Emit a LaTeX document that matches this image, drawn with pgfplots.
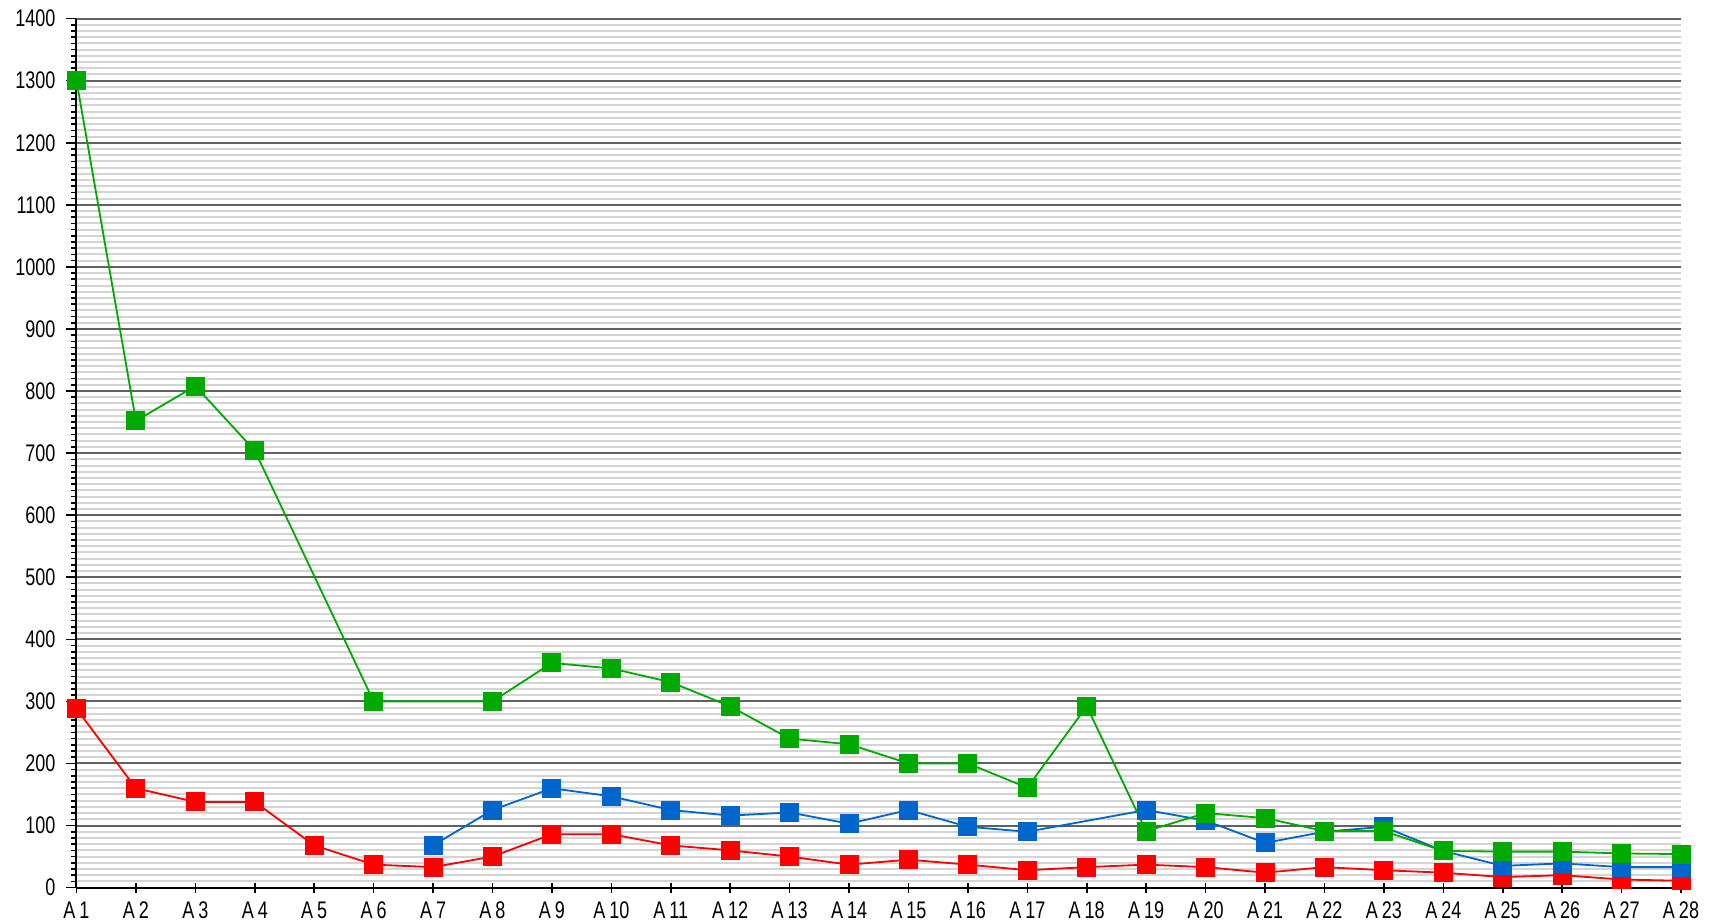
\documentclass[border=0pt]{standalone}
\usepackage{fontspec}
\setmainfont{Liberation Sans}[FakeStretch=0.75]
\usepackage{pgfplots}
\pgfplotsset{compat=1.18}
\definecolor{cgreen}{RGB}{0,170,0}
\definecolor{cred}{RGB}{255,0,0}
\definecolor{cblue}{RGB}{0,102,204}
\begin{document}
\begin{tikzpicture}
\useasboundingbox (-38.25pt,-17.2pt) rectangle (818.75pt,443.8pt);
\begin{axis}[
  at={(0,0)}, anchor=south west,
  scale only axis, width=802.25pt, height=434.5pt,
  xmin=1, xmax=28, ymin=0, ymax=1400,
  clip=false,
  axis lines*=left,
  axis line style={black, line width=1pt},
  xtick={1,...,28},
  xticklabels={A\,1,A\,2,A\,3,A\,4,A\,5,A\,6,A\,7,A\,8,A\,9,A\,10,A\,11,A\,12,A\,13,A\,14,A\,15,A\,16,A\,17,A\,18,A\,19,A\,20,A\,21,A\,22,A\,23,A\,24,A\,25,A\,26,A\,27,A\,28},
  ytick={0,100,...,1400},
  minor y tick num=9,
  ymajorgrids, yminorgrids,
  major grid style={draw=black!62, line width=1pt},
  minor grid style={draw=black!17, line width=1pt},
  tick style={black, line width=0.8pt},
  major tick length=5pt, minor tick length=2.5pt,
  tick align=outside,
  xtick align=center,
  /pgf/number format/assume math mode=true,
  /pgf/number format/1000 sep={},
  ticklabel style={font=\fontsize{12}{13}\selectfont},
  yticklabel style={xshift=-2pt},
  xticklabel style={yshift=-1pt},
  every axis plot/.append style={line width=0.9pt, mark=square*, mark size=4.3pt, mark options={solid}},
]
\addplot[color=cred, mark options={fill=cred, draw=cred}] coordinates {
(1,288)(2,160)(3,138)(4,138)(5,68)(6,37)(7,33)(8,50)(9,86)(10,86)(11,68)(12,60)(13,50)(14,37)(15,45)(16,37)(17,28)(18,33)(19,37)(20,33)(21,24)(22,33)(23,28)(24,24)(25,17)(26,20)(27,13)(28,11)};
\addplot[color=cblue, mark options={fill=cblue, draw=cblue}] coordinates {
(7,68)(8,125)(9,160)(10,147)(11,125)(12,116)(13,121)(14,103)(15,125)(16,98)(17,90)(19,125)(20,108)(21,72)(22,90)(23,98)(24,59)(25,35)(26,39)(27,33)(28,33)};
\addplot[color=cgreen, mark options={fill=cgreen, draw=cgreen}] coordinates {
(1,1300)(2,752)(3,808)(4,704)(6,300)(8,300)(9,362)(10,353)(11,331)(12,292)(13,240)(14,231)(15,200)(16,200)(17,161)(18,292)(19,91)(20,120)(21,112)(22,91)(23,91)(24,59)(25,58)(26,58)(27,55)(28,54)};
\end{axis}
\end{tikzpicture}
\end{document}
